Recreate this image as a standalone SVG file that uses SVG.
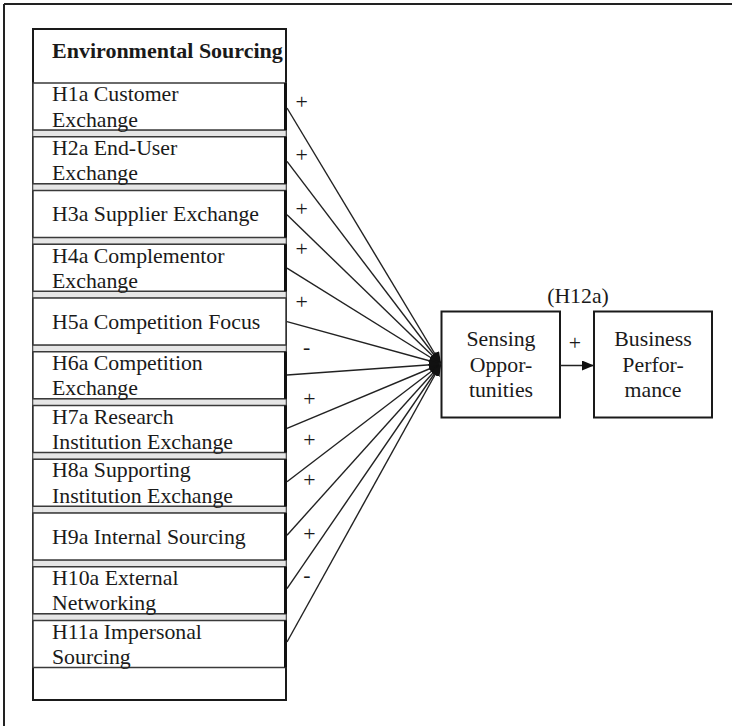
<svg xmlns="http://www.w3.org/2000/svg" width="732" height="726" viewBox="0 0 732 726">
  <style>
    .t { font-family: "Liberation Serif", "Times New Roman", serif; font-size: 21.8px; fill: #1a1a1a; }
    .hd { font-weight: bold; font-size: 22px; }
    .c { text-anchor: middle; }
    .row { fill: #ffffff; stroke: #3a3a3a; stroke-width: 1.5; }
    .gap { fill: #e6e6e6; stroke: #8a8a8a; stroke-width: 1; }
    .edge { stroke: #111; stroke-width: 3; }
    .box { fill: #ffffff; stroke: #1a1a1a; stroke-width: 2; }
    .link { stroke: #222; stroke-width: 1.4; fill: none; }
  </style>
  <defs>
    <marker id="arrow" viewBox="0 0 12 10" refX="12" refY="5" markerWidth="12" markerHeight="10" markerUnits="userSpaceOnUse" orient="auto">
      <path d="M0,0 L12,5 L0,10 Z" fill="#111"/>
    </marker>
  </defs>

  <rect width="732" height="726" fill="#ffffff"/>

  <!-- frame lines (top and left) -->
  <g id="frame" stroke="#222" stroke-width="2">
    <line x1="4" y1="4" x2="732" y2="4"/>
    <line x1="4" y1="4" x2="4" y2="726"/>
  </g>

  <!-- left column: Environmental Sourcing -->
  <g id="environmental-sourcing">
    <rect x="33" y="29" width="253" height="671" fill="#ffffff" stroke="#1a1a1a" stroke-width="2"/>
    <text class="t hd" x="52" y="58">Environmental Sourcing</text>
    <!-- separator bands between items -->
    <rect class="gap" x="33" y="130" width="253" height="6.75"/>
    <rect class="gap" x="33" y="183.75" width="253" height="6.75"/>
    <rect class="gap" x="33" y="237.5" width="253" height="6.75"/>
    <rect class="gap" x="33" y="291.25" width="253" height="6.75"/>
    <rect class="gap" x="33" y="345" width="253" height="6.75"/>
    <rect class="gap" x="33" y="398.75" width="253" height="6.75"/>
    <rect class="gap" x="33" y="452.5" width="253" height="6.75"/>
    <rect class="gap" x="33" y="506.25" width="253" height="6.75"/>
    <rect class="gap" x="33" y="560" width="253" height="6.75"/>
    <rect class="gap" x="33" y="613.75" width="253" height="6.75"/>
  </g>

  <g id="h1a">
    <rect class="row" x="33" y="83" width="253" height="47"/>
    <line class="edge" x1="285.5" y1="83" x2="285.5" y2="130"/>
    <text class="t" x="52" y="101">H1a Customer</text>
    <text class="t" x="52" y="126.5">Exchange</text>
  </g>
  <g id="h2a">
    <rect class="row" x="33" y="136.75" width="253" height="47"/>
    <line class="edge" x1="285.5" y1="136.75" x2="285.5" y2="183.75"/>
    <text class="t" x="52" y="154.75">H2a End-User</text>
    <text class="t" x="52" y="180.25">Exchange</text>
  </g>
  <g id="h3a">
    <rect class="row" x="33" y="190.5" width="253" height="47"/>
    <line class="edge" x1="285.5" y1="190.5" x2="285.5" y2="237.5"/>
    <text class="t" x="52" y="221">H3a Supplier Exchange</text>
  </g>
  <g id="h4a">
    <rect class="row" x="33" y="244.25" width="253" height="47"/>
    <line class="edge" x1="285.5" y1="244.25" x2="285.5" y2="291.25"/>
    <text class="t" x="52" y="262.75">H4a Complementor</text>
    <text class="t" x="52" y="288">Exchange</text>
  </g>
  <g id="h5a">
    <rect class="row" x="33" y="298" width="253" height="47"/>
    <text class="t" x="52" y="328.5">H5a Competition Focus</text>
  </g>
  <g id="h6a">
    <rect class="row" x="33" y="351.75" width="253" height="47"/>
    <line class="edge" x1="285.5" y1="351.75" x2="285.5" y2="398.75"/>
    <text class="t" x="52" y="369.75">H6a Competition</text>
    <text class="t" x="52" y="395">Exchange</text>
  </g>
  <g id="h7a">
    <rect class="row" x="33" y="405.5" width="253" height="47"/>
    <line class="edge" x1="285.5" y1="405.5" x2="285.5" y2="452.5"/>
    <text class="t" x="52" y="423.5">H7a Research</text>
    <text class="t" x="52" y="449">Institution Exchange</text>
  </g>
  <g id="h8a">
    <rect class="row" x="33" y="459.25" width="253" height="47"/>
    <line class="edge" x1="285.5" y1="459.25" x2="285.5" y2="506.25"/>
    <text class="t" x="52" y="477.25">H8a Supporting</text>
    <text class="t" x="52" y="502.75">Institution Exchange</text>
  </g>
  <g id="h9a">
    <rect class="row" x="33" y="513" width="253" height="47"/>
    <line class="edge" x1="285.5" y1="513" x2="285.5" y2="560"/>
    <text class="t" x="52" y="543.5">H9a Internal Sourcing</text>
  </g>
  <g id="h10a">
    <rect class="row" x="33" y="566.75" width="253" height="47"/>
    <line class="edge" x1="285.5" y1="566.75" x2="285.5" y2="613.75"/>
    <text class="t" x="52" y="584.5">H10a External</text>
    <text class="t" x="52" y="610">Networking</text>
  </g>
  <g id="h11a">
    <rect class="row" x="33" y="620.5" width="253" height="47"/>
    <line class="edge" x1="285.5" y1="620.5" x2="285.5" y2="667.5"/>
    <text class="t" x="52" y="638.5">H11a Impersonal</text>
    <text class="t" x="52" y="664">Sourcing</text>
  </g>

  <!-- right-hand constructs -->
  <g id="sensing-opportunities">
    <rect class="box" x="441.5" y="311.5" width="118.5" height="106"/>
    <text class="t c" x="501" y="346">Sensing</text>
    <text class="t c" x="501" y="371.5">Oppor-</text>
    <text class="t c" x="501" y="397">tunities</text>
  </g>
  <g id="business-performance">
    <rect class="box" x="594" y="311.5" width="118" height="106"/>
    <text class="t c" x="653" y="346">Business</text>
    <text class="t c" x="653" y="371.5">Perfor-</text>
    <text class="t c" x="653" y="397">mance</text>
  </g>

  <!-- connectors -->
  <g id="connectors">
    <line class="link" x1="287" y1="108" x2="441" y2="364" marker-end="url(#arrow)"/>
    <line class="link" x1="287" y1="161.4" x2="441" y2="364" marker-end="url(#arrow)"/>
    <line class="link" x1="287" y1="214.8" x2="441" y2="364" marker-end="url(#arrow)"/>
    <line class="link" x1="287" y1="268.2" x2="441" y2="364" marker-end="url(#arrow)"/>
    <line class="link" x1="287" y1="321.6" x2="441" y2="364" marker-end="url(#arrow)"/>
    <line class="link" x1="287" y1="375" x2="441" y2="364" marker-end="url(#arrow)"/>
    <line class="link" x1="287" y1="428.4" x2="441" y2="364" marker-end="url(#arrow)"/>
    <line class="link" x1="287" y1="481.8" x2="441" y2="364" marker-end="url(#arrow)"/>
    <line class="link" x1="287" y1="535.2" x2="441" y2="364" marker-end="url(#arrow)"/>
    <line class="link" x1="287" y1="588.6" x2="441" y2="364" marker-end="url(#arrow)"/>
    <line class="link" x1="287" y1="642" x2="441" y2="364" marker-end="url(#arrow)"/>
    <line class="link" x1="560" y1="365.5" x2="594" y2="365.5" marker-end="url(#arrow)"/>

    <!-- path signs -->
    <text class="t c" x="301.7" y="108.6">+</text>
    <text class="t c" x="301.7" y="162">+</text>
    <text class="t c" x="301.7" y="216">+</text>
    <text class="t c" x="301.7" y="256.3">+</text>
    <text class="t c" x="301.7" y="309.3">+</text>
    <text class="t c" x="306.7" y="353.8">-</text>
    <text class="t c" x="309.3" y="406">+</text>
    <text class="t c" x="309.3" y="447">+</text>
    <text class="t c" x="309.3" y="487">+</text>
    <text class="t c" x="309.3" y="541.3">+</text>
    <text class="t c" x="307" y="582">-</text>
    <text class="t c" x="575" y="350">+</text>
    <text class="t c" x="578" y="302.7">(H12a)</text>
  </g>
</svg>
